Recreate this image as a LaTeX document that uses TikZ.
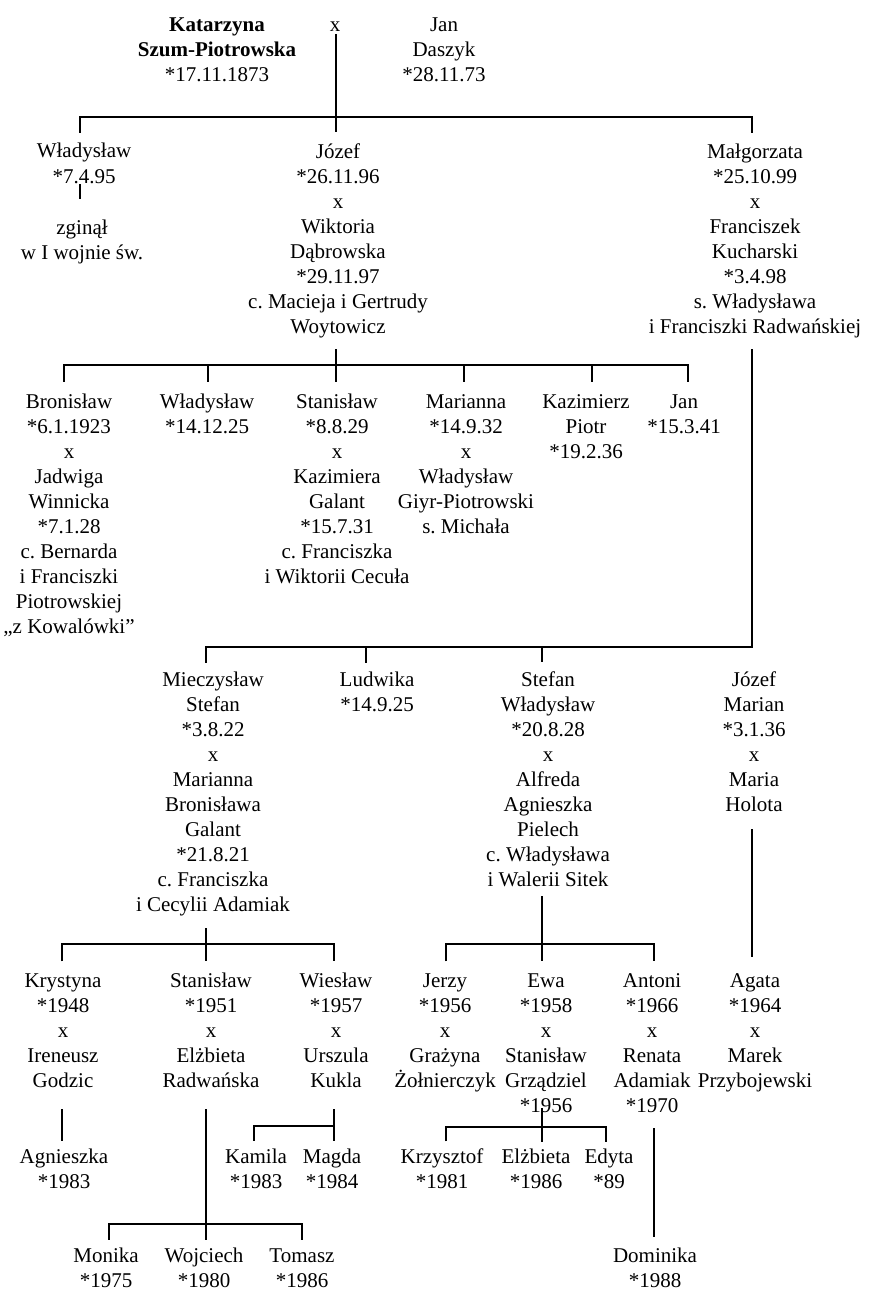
\documentclass[tikz,border=0pt]{standalone}
\usepackage{fontspec}
\setmainfont{Liberation Serif}
\newcommand\treefont{\fontsize{21}{25}\selectfont\frenchspacing}

\begin{document}
\begin{tikzpicture}[x=1pt, y=-1pt, line width=1.7pt, font=\treefont,
	pers/.style={align=center, inner sep=0pt, anchor=base, execute at end node=\strut},
	wed/.style={inner sep=1pt, anchor=base}]
	\useasboundingbox[fill=white] (0,0) rectangle (885,1308);
	\draw (217,82) node[pers] (K) {\textbf{Katarzyna}\\\textbf{Szum-Piotrowska}\\{}*17.11.1873}
	(335,32) node[wed] (X0) {x}
	(444,82) node[pers] (D) {Jan\\Daszyk\\{}*28.11.73};
	\draw (84,183) node[pers] (W1) {Władysław\\{}*7.4.95}
	(338,333) node[pers] (J1) {Józef\\{}*26.11.96\\x\\Wiktoria\\Dąbrowska\\{}*29.11.97\\c. Macieja i Gertrudy\\Woytowicz}
	(755,333) node[pers] (M1) {Małgorzata\\{}*25.10.99\\x\\Franciszek\\Kucharski\\{}*3.4.98\\s. Władysława\\i Franciszki Radwańskiej};
	\draw (82,259) node[pers] (Z) {zginął\\w I wojnie św.};
	\draw (69,633) node[pers] (B) {Bronisław\\{}*6.1.1923\\x\\Jadwiga\\Winnicka\\{}*7.1.28\\c. Bernarda\\i Franciszki\\Piotrowskiej\\„z Kowalówki”}
	(207,433) node[pers] (W2) {Władysław\\{}*14.12.25}
	(337,583) node[pers] (S1) {Stanisław\\{}*8.8.29\\x\\Kazimiera\\Galant\\{}*15.7.31\\c. Franciszka\\i Wiktorii Cecuła}
	(466,533) node[pers] (Ma) {Marianna\\{}*14.9.32\\x\\Władysław\\Giyr-Piotrowski\\s. Michała}
	(586,458) node[pers] (Ka) {Kazimierz\\Piotr\\{}*19.2.36}
	(684,433) node[pers] (Jn) {Jan\\{}*15.3.41};
	\draw (213,911) node[pers] (Mi) {Mieczysław\\Stefan\\{}*3.8.22\\x\\Marianna\\Bronisława\\Galant\\{}*21.8.21\\c. Franciszka\\i Cecylii Adamiak}
	(377,711) node[pers] (L) {Ludwika\\{}*14.9.25}
	(548,886) node[pers] (St) {Stefan\\Władysław\\{}*20.8.28\\x\\Alfreda\\Agnieszka\\Pielech\\c. Władysława\\i Walerii Sitek}
	(754,811) node[pers] (Jz) {Józef\\Marian\\{}*3.1.36\\x\\Maria\\Holota};
	\draw (63,1087) node[pers] (Kr) {Krystyna\\{}*1948\\x\\Ireneusz\\Godzic}
	(211,1087) node[pers] (S2) {Stanisław\\{}*1951\\x\\Elżbieta\\Radwańska}
	(336,1087) node[pers] (Wi) {Wiesław\\{}*1957\\x\\Urszula\\Kukla}
	(445,1087) node[pers] (Je) {Jerzy\\{}*1956\\x\\Grażyna\\Żołnierczyk}
	(546,1112) node[pers] (Ew) {Ewa\\{}*1958\\x\\Stanisław\\Grządziel\\{}*1956}
	(652,1112) node[pers] (An) {Antoni\\{}*1966\\x\\Renata\\Adamiak\\{}*1970}
	(755,1087) node[pers] (Ag) {Agata\\{}*1964\\x\\Marek\\Przybojewski};
	\draw (64,1188) node[pers] (Agn) {Agnieszka\\{}*1983}
	(256,1188) node[pers] (Kam) {Kamila\\{}*1983}
	(332,1188) node[pers] (Mag) {Magda\\{}*1984}
	(442,1188) node[pers] (Krz) {Krzysztof\\{}*1981}
	(536,1188) node[pers] (El) {Elżbieta\\{}*1986}
	(609,1188) node[pers] (Ed) {Edyta\\{}*89};
	\draw (106,1287) node[pers] (Mo) {Monika\\{}*1975}
	(204,1287) node[pers] (Wo) {Wojciech\\{}*1980}
	(302,1287) node[pers] (To) {Tomasz\\{}*1986}
	(655,1287) node[pers] (Do) {Dominika\\{}*1988};
	\coordinate (a1) at (80,117); \coordinate (a2) at (336,117); \coordinate (a3) at (752,117);
	\coordinate (c1) at (64,365); \coordinate (c2) at (208,365); \coordinate (c3) at (336,365);
	\coordinate (c4) at (464,365); \coordinate (c5) at (592,365); \coordinate (c6) at (688,365);
	\coordinate (d1) at (206,647); \coordinate (d2) at (366,647); \coordinate (d3) at (542,647); \coordinate (d4) at (752,647);
	\coordinate (e1) at (62,944); \coordinate (e2) at (206,944); \coordinate (e3) at (334,944);
	\coordinate (f1) at (446,944); \coordinate (f2) at (542,944); \coordinate (f3) at (654,944);
	\coordinate (h1) at (254,1126); \coordinate (h2) at (334,1126);
	\coordinate (i1) at (446,1127); \coordinate (i2) at (542,1127); \coordinate (i3) at (606,1127);
	\coordinate (j1) at (109,1224); \coordinate (j2) at (206,1224); \coordinate (j3) at (302,1224);
	\draw[shorten <=10pt, shorten >=10pt] (W1.north -| a1) -- (a1) -- (a3) -- (M1.north -| a3);
	\draw[shorten >=10pt] (X0.south -| a2) -- (J1.north -| a2);
	\draw[shorten <=-7pt, shorten >=20pt] (W1.south -| a1) -- (Z.north -| a1);
	\draw[shorten <=11pt, shorten >=11pt] (B.north -| c1) -- (c1) -- (c6) -- (Jn.north -| c6);
	\draw[shorten <=8pt, shorten >=11pt] (J1.south -| c3) -- (S1.north -| c3);
	\draw[shorten >=11pt] (c2) -- (W2.north -| c2); \draw[shorten >=11pt] (c4) -- (Ma.north -| c4);
	\draw[shorten >=11pt] (c5) -- (Ka.north -| c5);
	\draw[shorten <=8pt, shorten >=8pt] (M1.south -| d4) -- (d4) -- (d1) -- (Mi.north -| d1);
	\draw[shorten >=8pt] (d2) -- (L.north -| d2); \draw[shorten >=8pt] (d3) -- (St.north -| d3);
	\draw[shorten <=11pt, shorten >=11pt] (Kr.north -| e1) -- (e1) -- (e3) -- (Wi.north -| e3);
	\draw[shorten <=9pt, shorten >=11pt] (Mi.south -| e2) -- (S2.north -| e2);
	\draw[shorten <=11pt, shorten >=11pt] (Je.north -| f1) -- (f1) -- (f3) -- (An.north -| f3);
	\draw[shorten <=2pt, shorten >=11pt] (St.south -| f2) -- (Ew.north -| f2);
	\draw[shorten <=10pt, shorten >=15pt] (Jz.south -| d4) -- (Ag.north -| d4);
	\draw[shorten <=14pt, shorten >=7pt] (Kr.south -| e1) -- (Agn.north -| e1);
	\draw[shorten <=14pt, shorten >=7pt] (Wi.south -| h2) -- (Mag.north -| h2);
	\draw[shorten >=7pt] (h2) -- (h1) -- (Kam.north -| h1);
	\draw[shorten <=6pt, shorten >=6pt] (Krz.north -| i1) -- (i1) -- (i3) -- (Ed.north -| i3);
	\draw[shorten <=-12pt, shorten >=6pt] (Ew.south -| i2) -- (El.north -| i2);
	\draw[shorten <=7pt, shorten >=7pt] (Mo.north -| j1) -- (j1) -- (j3) -- (To.north -| j3);
	\draw[shorten <=14pt, shorten >=7pt] (S2.south -| j2) -- (Wo.north -| j2);
	\draw[shorten <=8pt, shorten >=10pt] (An.south -| f3) -- (Do.north -| f3);
\end{tikzpicture}
\end{document}
